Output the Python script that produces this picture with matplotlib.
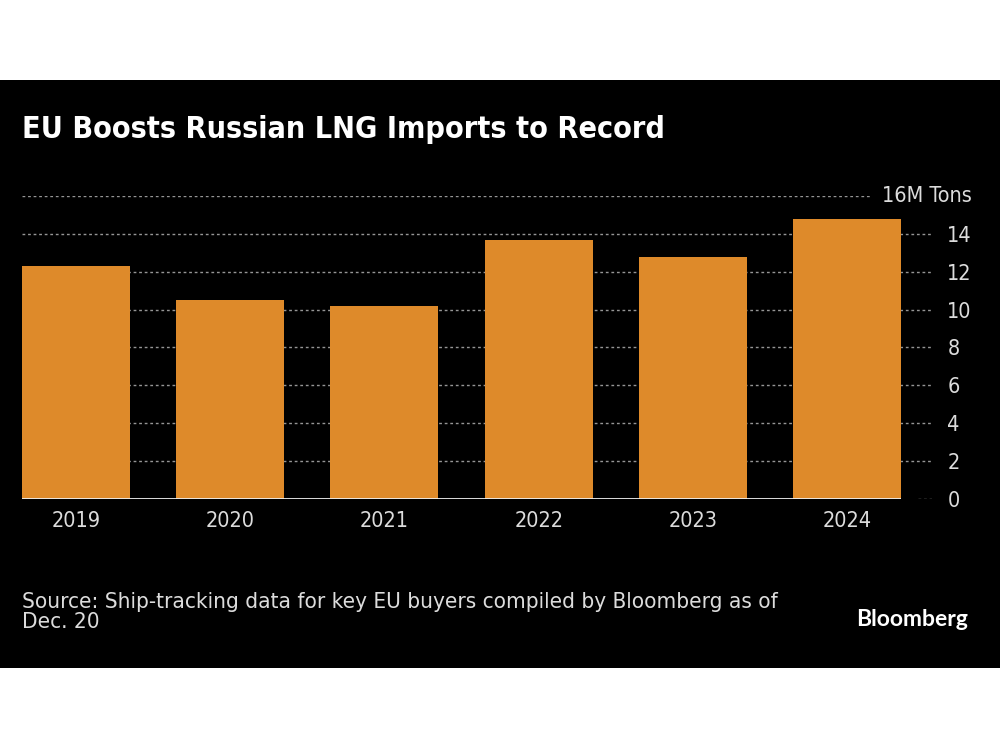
import matplotlib.pyplot as plt
from matplotlib import font_manager
from matplotlib.patches import Rectangle

years = ["2019", "2020", "2021", "2022", "2023", "2024"]
imports_mt = [12.3, 10.5, 10.2, 13.7, 12.8, 14.8]
y_ticks = [0, 2, 4, 6, 8, 10, 12, 14, 16]
unit_label = "16M Tons"

TITLE = "EU Boosts Russian LNG Imports to Record"
SOURCE = "Source: Ship-tracking data for key EU buyers compiled by Bloomberg as of\nDec. 20"

BAR_COLOR = "#DE8A2A"
TEXT_COLOR = "#DCDCDC"
GRID_COLOR = "#959595"

# narrow font if the system has one, otherwise plain DejaVu Sans
font_path = font_manager.findfont(
    font_manager.FontProperties(family="DejaVu Sans", stretch="condensed"))
stretch = "condensed" if "Condensed" in font_path else "normal"
plt.rcParams["font.family"] = "DejaVu Sans"
plt.rcParams["font.stretch"] = stretch

fig = plt.figure(figsize=(10, 7.5), dpi=100, facecolor="white")
fig.patches.append(Rectangle((0, 0.1093), 1, 0.784, transform=fig.transFigure,
                             facecolor="black", edgecolor="none", zorder=-10))

ax = fig.add_axes([0.022, 0.3347, 0.910, 0.404])
ax.set_facecolor("none")

x = list(range(len(years)))
ax.bar(x, imports_mt, width=0.7, color=BAR_COLOR, zorder=2)

ax.set_xlim(-0.35, len(years) - 0.45)
ax.set_ylim(0, 16)

# dotted gridlines; the top one stops short of the unit label
for t in y_ticks[1:-1]:
    ax.axhline(t, color=GRID_COLOR, lw=1, ls=(0, (2, 2)), zorder=1)
ax.axhline(16, xmax=0.932, color=GRID_COLOR, lw=1, ls=(0, (2, 2)), zorder=1)
ax.axhline(0, xmin=0.985, color=GRID_COLOR, lw=1, ls=(0, (2, 2)), zorder=1)
ax.hlines(0, -0.35, len(years) - 0.65, color="#EEEEEE", lw=1.3, zorder=3)

for s in ax.spines.values():
    s.set_visible(False)

ax.set_xticks(x)
ax.set_xticklabels(years)
ax.yaxis.tick_right()
ax.set_yticks(y_ticks[:-1])
ax.set_yticklabels([str(t) for t in y_ticks[:-1]])
ax.tick_params(axis="x", length=0, pad=9, labelsize=15.5, labelcolor=TEXT_COLOR)
ax.tick_params(axis="y", length=0, pad=11, labelsize=15.5, labelcolor=TEXT_COLOR)
ax.text(1.0435, 16, unit_label, transform=ax.get_yaxis_transform(),
        ha="right", va="center", fontsize=15.5, color=TEXT_COLOR)

fig.text(0.022, 0.827, TITLE, fontsize=21.9, fontweight="bold", color="white",
         va="center", ha="left")
fig.text(0.022, 0.184, SOURCE, fontsize=16.1, color=TEXT_COLOR, va="center",
         ha="left", linespacing=1.0)
fig.text(0.968, 0.174, "Bloomberg", fontsize=16.5, fontweight="bold",
         color="white", ha="right", va="center", family="Lato")

fig.savefig("out.png", dpi=100, facecolor="white")
